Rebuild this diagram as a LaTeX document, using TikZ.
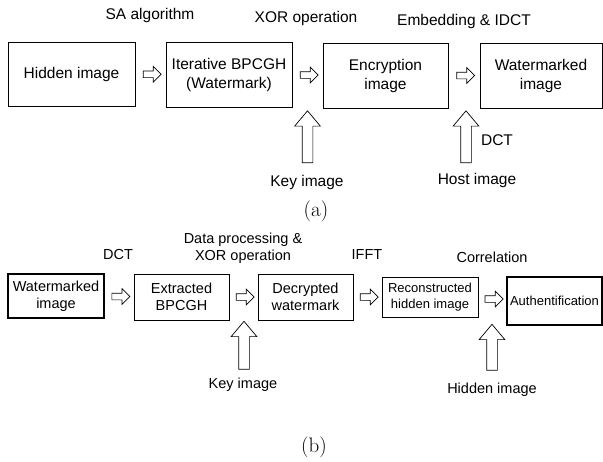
\documentclass[tikz,border=0pt]{standalone}
\usepackage{fontspec}
\setsansfont{Liberation Sans}
\usetikzlibrary{shapes.arrows,calc}

\tikzset{
  blk/.style={draw,line width=1pt,align=center,inner sep=1pt},
  fa/.style={font=\sffamily\fontsize{15.5}{19}\selectfont},
  fb/.style={font=\sffamily\fontsize{14.5}{17.5}\selectfont},
  fc/.style={font=\sffamily\fontsize{13}{16}\selectfont},
  harrow/.style={single arrow,draw,line width=0.7pt,inner xsep=0pt,inner ysep=3pt,
    single arrow head extend=4.5pt,minimum height=18pt},
  uparrow/.style={single arrow,draw,line width=0.7pt,inner xsep=5pt,inner ysep=0pt,
    single arrow head extend=7.5pt,single arrow tip angle=80,shape border rotate=90}
}

\begin{document}
\begin{tikzpicture}[x=1pt,y=-1pt]
\useasboundingbox (0,0) rectangle (603,461);

% (a) embedding
\node[blk,fa,minimum width=127pt,minimum height=64pt] (hid) at (71.5,74) {Hidden image};
\node[blk,fa,minimum width=126pt,minimum height=65pt] (bpc) at (229,74.5) {Iterative BPCGH\\(Watermark)};
\node[blk,fa,minimum width=125pt,minimum height=65pt] (enc) at (385.5,75.5) {Encryption\\image};
\node[blk,fa,minimum width=122pt,minimum height=65pt] (wmk) at (541,75.5) {Watermarked\\image};

\node[harrow] (a1) at ($(hid.east)!0.5!(bpc.west)$) {};
\node[harrow] (a2) at ($(bpc.east)!0.5!(enc.west)$) {};
\node[harrow] (a3) at ($(enc.east)!0.5!(wmk.west)$) {};

\node[fa] (sa) at (150,15) {SA algorithm};
\node[fa] (xor) at (306,18) {XOR operation};
\node[fa] (emb) at (464,21) {Embedding \& IDCT};

\node[uparrow,minimum height=52pt] (ka) at (307.5,140) {};
\node[uparrow,minimum height=52pt] (ha) at (466,140) {};
\node[fa] (keya) at (307,182) {Key image};
\node[fa] (host) at (477,180) {Host image};
\node[fa] (dcta) at (497,140) {DCT};

\node[font=\fontsize{21}{24}\selectfont] (capa) at (316,211) {(a)};

% (b) extraction
\node[blk,fb,line width=1.6pt,minimum width=96pt,minimum height=44pt] (wm2) at (56,296) {Watermarked\\image};
\node[blk,fb,line width=0.9pt,minimum width=95pt,minimum height=46pt] (ext) at (181.5,297) {Extracted\\BPCGH};
\node[blk,fb,line width=0.9pt,minimum width=95pt,minimum height=46pt] (dec) at (305.5,297) {Decrypted\\watermark};
\node[blk,fc,minimum width=96pt,minimum height=40pt] (rec) at (430,297) {Reconstructed\\hidden image};
\node[blk,fc,line width=1.6pt,minimum width=95pt,minimum height=48pt] (aut) at (554.5,301) {Authentification};

\node[harrow] (b1) at ($(wm2.east)!0.5!(ext.west)$) {};
\node[harrow] (b2) at ($(ext.east)!0.5!(dec.west)$) {};
\node[harrow] (b3) at ($(dec.east)!0.5!(rec.west)$) {};
\node[harrow] (b4) at ($(rec.east)!0.5!(aut.west)$) {};

\node[fb] (dctb) at (118,255) {DCT};
\node[fb,align=center] (dat) at (243,248) {Data processing \&\\XOR operation};
\node[fb] (ifft) at (367,255) {IFFT};
\node[fb] (cor) at (492,257) {Correlation};

\node[uparrow,minimum height=48pt] (kb) at (244,348.5) {};
\node[uparrow,minimum height=46pt] (hb) at (492,350.5) {};
\node[fb] (keyb) at (243,385) {Key image};
\node[fb] (hidb) at (492,390) {Hidden image};

\node[font=\fontsize{21}{24}\selectfont] (capb) at (314,447) {(b)};
\end{tikzpicture}
\end{document}
